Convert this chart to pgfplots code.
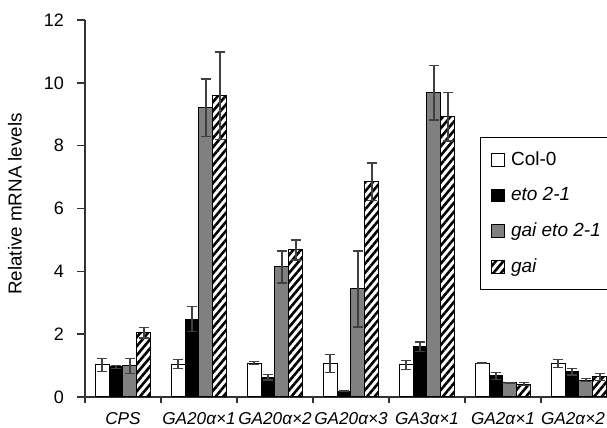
\documentclass[border=0pt]{standalone}
\usepackage{fontspec}
\setmainfont{Liberation Sans}
\usepackage{pgfplots}
\pgfplotsset{compat=1.18}
\usetikzlibrary{patterns.meta}

\pgfplotstableread{
x y e
0.224 1.02 0.20
1.224 1.05 0.14
2.224 1.08 0.05
3.224 1.06 0.28
4.224 1.02 0.15
5.224 1.08 0.02
6.224 1.06 0.13
}\colo
\pgfplotstableread{
x y e
0.408 0.96 0.05
1.408 2.48 0.39
2.408 0.63 0.09
3.408 0.18 0.01
4.408 1.60 0.15
5.408 0.67 0.12
6.408 0.80 0.10
}\eto
\pgfplotstableread{
x y e
0.592 0.99 0.24
1.592 9.20 0.92
2.592 4.14 0.51
3.592 3.44 1.21
4.592 9.68 0.86
5.592 0.45 0.02
6.592 0.54 0.05
}\gaieto
\pgfplotstableread{
x y e
0.776 2.04 0.16
1.776 9.59 1.39
2.776 4.68 0.32
3.776 6.85 0.60
4.776 8.92 0.77
5.776 0.41 0.05
6.776 0.64 0.12
}\gai

\begin{document}
\begin{tikzpicture}
\useasboundingbox (-42.5pt,-15.5pt) rectangle (261pt,198.5pt);
\clip (-42.5pt,-15.5pt) rectangle (261pt,198.5pt);
\begin{axis}[
  at={(0,0)}, anchor=origin,
  scale only axis, width=266pt, height=188.5pt,
  xmin=0, xmax=7, ymin=0, ymax=12,
  axis lines=left,
  axis line style={-, line width=0.8pt, black!80},
  ytick={0,2,...,12},
  xtick={0.5,1.5,...,6.5},
  xticklabels={\textit{CPS},\textit{GA20α×1},\textit{GA20α×2},\textit{GA20α×3},\textit{GA3α×1},\textit{GA2α×1},\textit{GA2α×2}\hspace*{6pt}},
  minor xtick={0,1,...,7},
  major x tick style={draw=none},
  minor x tick style={line width=0.8pt, black!80},
  y tick style={line width=0.8pt, black!80},
  tick align=outside,
  major tick length=4pt, minor tick length=3pt,
  yticklabel style={font=\fontsize{9}{10}\selectfont, xshift=-3pt},
  xticklabel style={font=\fontsize{8.6}{10}\selectfont, yshift=-0.3pt},
  /pgf/number format/assume math mode=true,
  ylabel={Relative mRNA levels},
  every axis y label/.style={at={(axis description cs:-0.1316,0.512)}, rotate=90, anchor=center, font=\fontsize{9.4}{11}\selectfont},
  ybar, bar width=0.184, bar shift=0pt,
  every axis plot/.append style={draw=black, line width=0.5pt},
  error bars/y dir=both, error bars/y explicit,
  error bars/error bar style={line width=0.6pt, black!75},
  error bars/error mark options={rotate=90, mark size=2.6pt, line width=0.6pt, black!75},
  legend image code/.code={\draw[#1,draw=black,line width=0.5pt] (0pt,-3.2pt) rectangle (6.5pt,3.2pt); \path[draw=none,fill=none,pattern=none] (6.5pt,0pt) -- (10pt,0pt);},
  legend cell align=left,
  legend style={at={(axis cs:5.197,8.28)}, anchor=north west, draw=black, line width=0.6pt,
    font=\fontsize{9.5}{11}\selectfont, row sep=5.6pt, inner xsep=5pt, inner ysep=5pt,
    nodes={inner xsep=0pt}},
]
\addplot[fill=white] table[x=x, y=y, y error=e] {\colo};
\addplot[fill=black] table[x=x, y=y, y error=e] {\eto};
\addplot[fill=black!50] table[x=x, y=y, y error=e] {\gaieto};
\addplot[pattern={Lines[angle=50, distance=2.9pt, line width=1.3pt]}, pattern color=black] table[x=x, y=y, y error=e] {\gai};
\legend{Col-0, \textit{eto 2-1}, \textit{gai eto 2-1}, \textit{gai}}
\end{axis}
\end{tikzpicture}
\end{document}
